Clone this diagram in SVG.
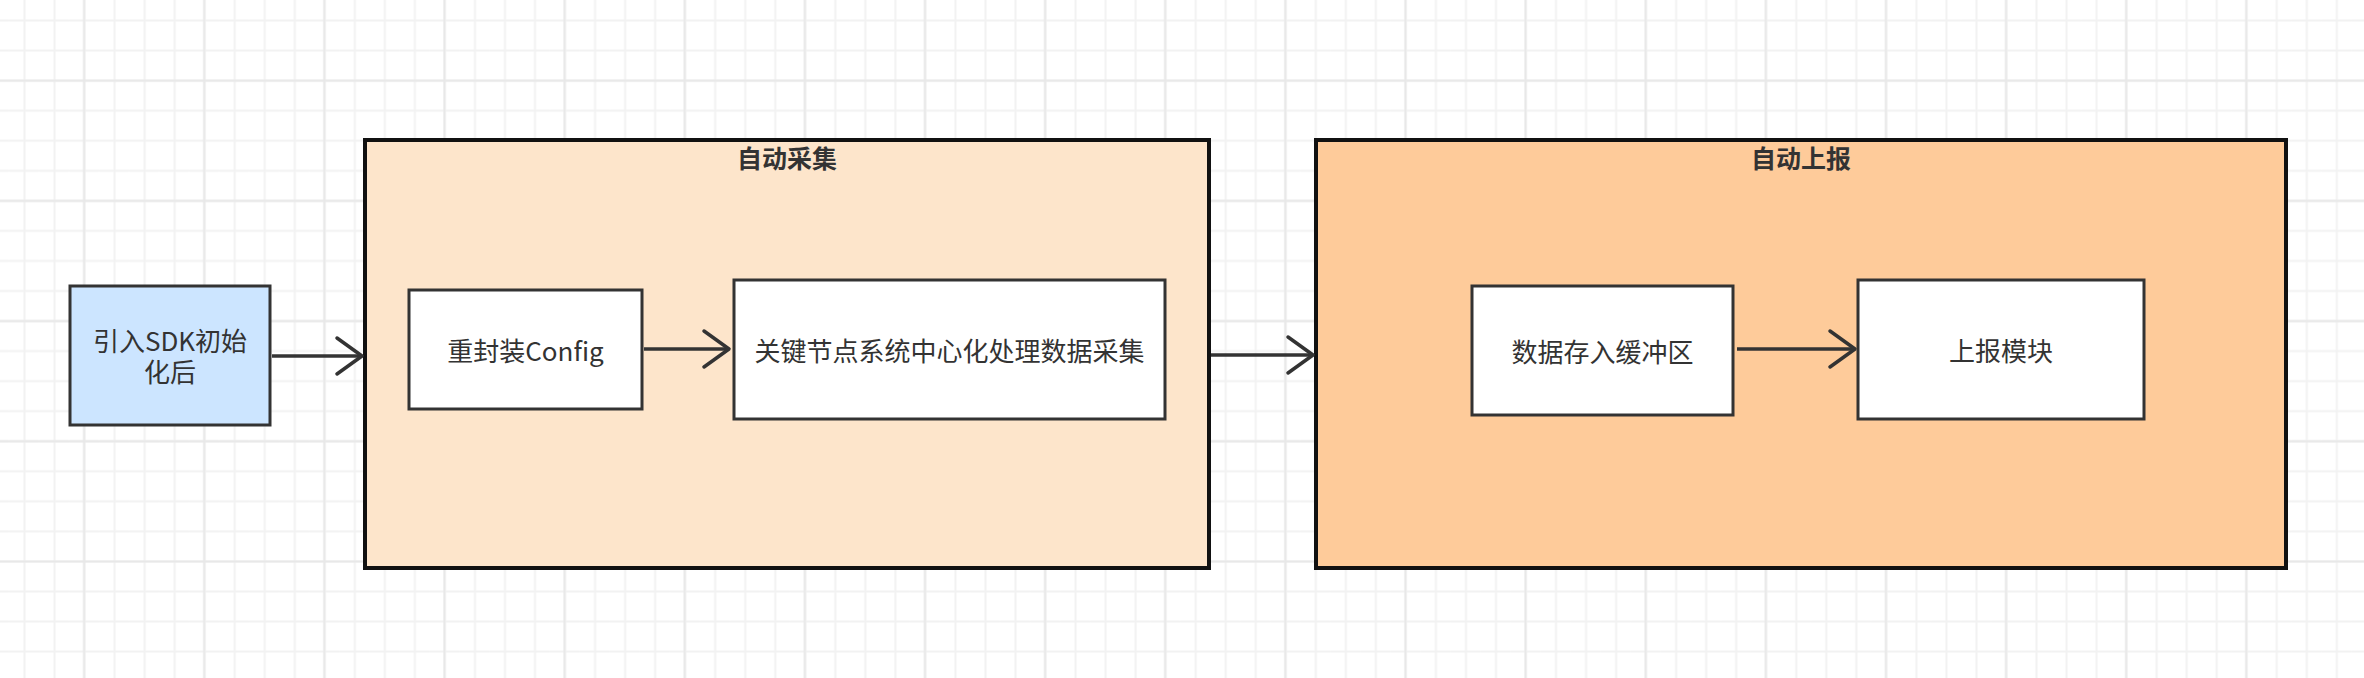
<svg xmlns="http://www.w3.org/2000/svg" width="2364" height="678" viewBox="0 0 2364 678">
  <style>
    .grp { stroke: #111111; stroke-width: 4; }
    .node { fill: #ffffff; stroke: #333333; stroke-width: 3; }
    .lbl { font-family: "Noto Sans CJK SC", "Noto Sans", sans-serif; font-size: 26px; fill: #333333; text-anchor: middle; dominant-baseline: central; }
    .ttl { font-family: "Noto Sans CJK SC", "Noto Sans", sans-serif; font-size: 25px; font-weight: bold; fill: #333333; text-anchor: middle; dominant-baseline: central; }
    .edge { fill: none; stroke: #333333; stroke-width: 3.5; }
  </style>
  <defs>
    <pattern id="minor" patternUnits="userSpaceOnUse" x="9.5" y="5.5" width="30.03" height="30.05">
      <path d="M15 0 V30.05 M0 15 H30.03" stroke="#f2f2f2" stroke-width="2" fill="none"/>
    </pattern>
    <pattern id="major" patternUnits="userSpaceOnUse" x="24.06" y="20.6" width="120.12" height="120.2">
      <path d="M60 0 V120.2 M0 60 H120.12" stroke="#e8e8e8" stroke-width="2" fill="none"/>
    </pattern>
    <marker id="open" markerUnits="userSpaceOnUse" markerWidth="32" markerHeight="44" viewBox="0 0 32 44" refX="28" refY="22" orient="auto">
      <path d="M3 4 L28 22 L3 40" fill="none" stroke="#333333" stroke-width="3.5" stroke-linecap="round" stroke-linejoin="round"/>
    </marker>
  </defs>

  <rect x="0" y="0" width="2364" height="678" fill="#ffffff"/>
  <rect x="0" y="0" width="2364" height="678" fill="url(#minor)"/>
  <rect x="0" y="0" width="2364" height="678" fill="url(#major)"/>

  <g id="group-collect">
    <rect class="grp" x="365" y="140" width="844" height="428" fill="#fde5cb"/>
    <text class="ttl" x="787" y="157">自动采集</text>
  </g>

  <g id="group-report">
    <rect class="grp" x="1316" y="140" width="970" height="428" fill="#fecb9a"/>
    <text class="ttl" x="1801" y="157">自动上报</text>
  </g>

  <g id="node-sdk">
    <rect x="70" y="286" width="200" height="139" fill="#cce5ff" stroke="#333333" stroke-width="3"/>
    <text class="lbl" x="170" y="339"><tspan x="170" y="339">引入SDK初始</tspan><tspan x="170" y="370">化后</tspan></text>
  </g>

  <g id="node-config">
    <rect class="node" x="409" y="290" width="233" height="119"/>
    <text class="lbl" x="525.5" y="349.5">重封装Config</text>
  </g>

  <g id="node-keynode">
    <rect class="node" x="734" y="280" width="431" height="139"/>
    <text class="lbl" x="949.5" y="349.5">关键节点系统中心化处理数据采集</text>
  </g>

  <g id="node-buffer">
    <rect class="node" x="1472" y="286" width="261" height="129"/>
    <text class="lbl" x="1602.5" y="350.5">数据存入缓冲区</text>
  </g>

  <g id="node-upload">
    <rect class="node" x="1858" y="280" width="286" height="139"/>
    <text class="lbl" x="2001" y="349.5">上报模块</text>
  </g>

  <g id="connectors">
    <path class="edge" d="M272 356 H362" marker-end="url(#open)"/>
    <path class="edge" d="M644 349 H729" marker-end="url(#open)"/>
    <path class="edge" d="M1211 355 H1313" marker-end="url(#open)"/>
    <path class="edge" d="M1737 349 H1855" marker-end="url(#open)"/>
  </g>
</svg>
